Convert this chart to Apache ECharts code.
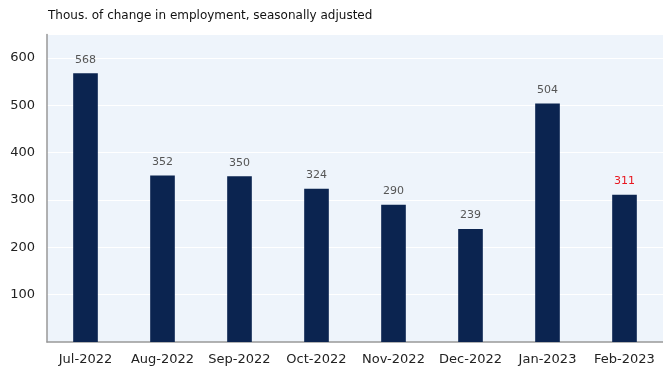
<!DOCTYPE html>
<html><head><meta charset="utf-8">
<script src="https://cdn.jsdelivr.net/npm/echarts@6/dist/echarts.min.js"></script>
<style>html,body{margin:0;padding:0;background:#fff}#c{width:663px;height:366px}</style>
</head><body><div id="c"></div>
<script>
const categories = ['Jul-2022','Aug-2022','Sep-2022','Oct-2022','Nov-2022','Dec-2022','Jan-2023','Feb-2023'];
const values = [568, 352, 350, 324, 290, 239, 504, 311];
const labelColors = ['#555','#555','#555','#555','#555','#555','#555','#E8171F'];
const titleText = 'Thous. of change in employment, seasonally adjusted';

const chart = echarts.init(document.getElementById('c'));
const font = '"DejaVu Sans", sans-serif';
chart.setOption({
  animation: false,
  title: { text: titleText, left: 43, top: 5, textStyle: { fontFamily: font, fontSize: 12, fontWeight: 'normal', color: '#111' } },
  grid: { left: 47, right: -10, top: 34.4, bottom: 23.5, show: true, backgroundColor: '#EEF4FB', borderWidth: 0 },
  xAxis: {
    type: 'category', data: categories,
    axisLine: { lineStyle: { color: '#999', width: 1.5 } },
    axisTick: { show: false },
    axisLabel: { fontFamily: font, fontSize: 13, color: '#222', margin: 11, interval: 0, hideOverlap: false }
  },
  yAxis: {
    type: 'value', min: 0, max: 650, interval: 100,
    axisLine: { show: true, lineStyle: { color: '#999', width: 1.5 } },
    axisTick: { show: false },
    splitLine: { lineStyle: { color: '#fff', width: 1.2 } },
    axisLabel: { fontFamily: font, fontSize: 13, color: '#222', margin: 12, showMinLabel: false, showMaxLabel: false,
      formatter: v => (v === 0 || v === 650) ? '' : String(v) }
  },
  series: [{
    type: 'bar',
    data: values.map((v, i) => ({ value: v, label: { color: labelColors[i] } })),
    barWidth: '32%',
    itemStyle: { color: '#0B2450' },
    label: { show: true, position: 'top', distance: 8, fontFamily: font, fontSize: 11 }
  }]
});
</script></body></html>
